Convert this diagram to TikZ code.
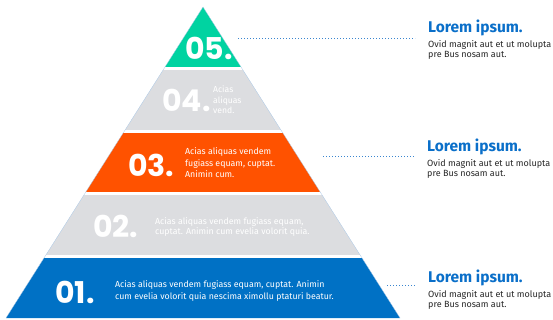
\documentclass[tikz,border=0pt]{standalone}
\usepackage{fontspec}
\setmainfont{Fira Sans}
\newfontfamily\numfont{Poppins}
\definecolor{teal5}{HTML}{00D3A1}
\definecolor{gray4}{HTML}{DCDDE0}
\definecolor{orange3}{HTML}{FF5200}
\definecolor{blue1}{HTML}{0071C5}
\definecolor{headblue}{HTML}{0A6FC9}
\definecolor{dotblue}{HTML}{3A86D0}
\definecolor{edgeblue}{HTML}{A9C7E6}
\tikzset{
  num/.style={anchor=west,inner sep=0pt,text=white,font=\numfont\bfseries\fontsize{30}{30}\selectfont},
  bandtxt/.style={anchor=west,inner sep=0pt,text=white,align=left,font=\fontsize{8.8}{11.5}\selectfont},
  head/.style={anchor=base west,inner sep=0pt,text=headblue,font=\bfseries\fontsize{15.5}{15.5}\selectfont},
  body/.style={anchor=north west,inner sep=0pt,text=black!85,align=left,font=\fontsize{9}{10}\selectfont},
  dotline/.style={draw=dotblue,line width=0.9pt,dash pattern=on 0.9pt off 2.1pt},
}
\begin{document}
\begin{tikzpicture}[x=1pt,y=-1pt]
\useasboundingbox (0,0) rectangle (553,320);
% pyramid bands
\begin{scope}
  \clip (203,7) -- (400,318) -- (6,318) -- cycle;
  \fill[teal5]   (0,0)     rectangle (553,66.8);
  \fill[gray4]   (0,69.8)  rectangle (553,129.6);
  \fill[orange3] (0,132.6) rectangle (553,192.4);
  \fill[gray4]   (0,195.4) rectangle (553,255.2);
  \fill[blue1]   (0,258.2) rectangle (553,320);
\end{scope}
\draw[edgeblue,line width=0.3pt] (203,7) -- (400,318) (203,7) -- (6,318);
% numbers
\node[num] (n5) at (185,48) {05.};
\node[num] (n4) at (162,100) {04.};
\node[num] (n3) at (128,165) {03.};
\node[num] (n2) at (93,226.5) {02.};
\node[num] (n1) at (55,292) {01.};
% band texts
\node[bandtxt,font=\fontsize{8.6}{10.5}\selectfont] (t4) at (213,99.7) {Acias\\aliquas\\vend.};
\node[bandtxt] (t3) at (185,162.7) {Acias aliquas vendem\\fugiass equam, cuptat.\\Animin cum.};
\node[bandtxt,font=\fontsize{8.8}{10.7}\selectfont] (t2) at (155,227) {Acias aliquas vendem fugiass equam,\\cuptat. Animin cum evelia volorit quia.};
\node[bandtxt,font=\fontsize{8.8}{11.7}\selectfont] (t1) at (115,291) {Acias aliquas vendem fugiass equam, cuptat. Animin\\cum evelia volorit quia nescima ximollu ptaturi beatur.};
% right texts
\node[head] (h1) at (428,32.7) {Lorem ipsum.};
\node[body] (b1) at (428,39.8) {Ovid magnit aut et ut molupta\\pre Bus nosam aut.};
\node[head] (h2) at (427,151.7) {Lorem ipsum.};
\node[body] (b2) at (427,158.8) {Ovid magnit aut et ut molupta\\pre Bus nosam aut.};
\node[head] (h3) at (428,282.7) {Lorem ipsum.};
\node[body] (b3) at (428,289.8) {Ovid magnit aut et ut molupta\\pre Bus nosam aut.};
% connectors
\coordinate (s1) at (238,38);  \coordinate (e1) at (415,38);
\coordinate (s2) at (323,156); \coordinate (e2) at (415,156);
\coordinate (s3) at (387,285); \coordinate (e3) at (416,285);
\draw[dotline] (s1) -- (e1);
\draw[dotline] (s2) -- (e2);
\draw[dotline] (s3) -- (e3);
\end{tikzpicture}
\end{document}
